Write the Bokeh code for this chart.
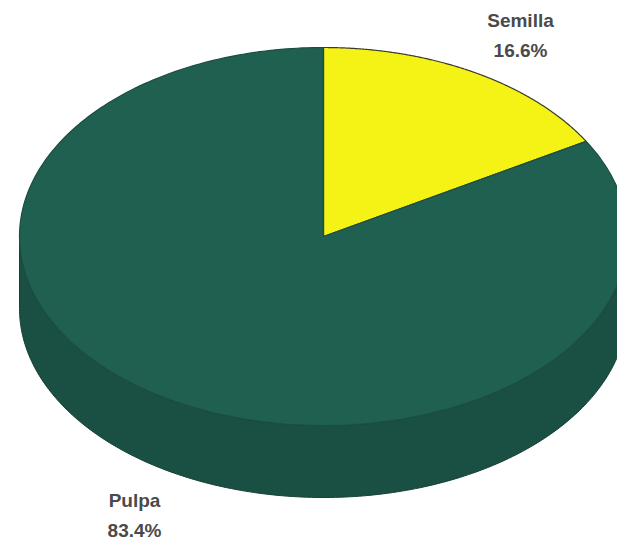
import numpy as np
from bokeh.plotting import figure
from bokeh.models import Range1d
from bokeh.embed import file_html
from bokeh.resources import INLINE
from bokeh.core.properties import value

# ---- data ----
categories = ["Semilla", "Pulpa"]
values = [16.6, 83.4]

# ---- style / layout ----
top_colors = ["#f5f216", "#1f6051"]
side_colors = ["#c9c40c", "#1a5044"]
edge_colors = ["#3a3a2a", "#1b4d42"]
label_pos = [(520, 20, 50), (134, 500, 530)]   # x, y of name, y of percent (pixels)
W, H = 617, 545
cx, cy, rx, ry, depth = 323, 236, 304, 189, 72

p = figure(width=W, height=H, x_range=Range1d(0, W), y_range=Range1d(H, 0),
           output_backend="svg", toolbar_location=None,
           x_axis_location=None, y_axis_location=None, min_border=0)
p.grid.visible = False
p.outline_line_color = None
p.background_fill_color = "white"
p.border_fill_color = "white"

def pt(t, dz=0.0):
    return cx + rx * np.cos(t), cy - ry * np.sin(t) + dz

total = float(sum(values))
start = np.pi / 2
slices = []
for v in values:
    sweep = 2 * np.pi * v / total
    slices.append((start, start - sweep))   # clockwise
    start -= sweep

# side (front half: math angles in [-pi, 0] modulo 2pi)
for (a0, a1), col in zip(slices, side_colors):
    hi, lo = a0, a1
    for shift in (0, -2 * np.pi, 2 * np.pi):
        s_hi = min(hi + shift, 0.0)
        s_lo = max(lo + shift, -np.pi)
        if s_hi > s_lo:
            t = np.linspace(s_hi, s_lo, 200)
            xt, yt = pt(t)
            xb, yb = pt(t[::-1], depth)
            xs = np.concatenate([xt, xb])
            ys = np.concatenate([yt, yb])
            p.patch(xs, ys, fill_color=col, line_color="#163f36", line_width=1)

# top slices
for (a0, a1), col, ec in zip(slices, top_colors, edge_colors):
    t = np.linspace(a0, a1, 300)
    xe, ye = pt(t)
    xs = np.concatenate([[cx], xe, [cx]])
    ys = np.concatenate([[cy], ye, [cy]])
    p.patch(xs, ys, fill_color=col, line_color=ec, line_width=1.2)

# labels
for cat, v, (lx, ly1, ly2) in zip(categories, values, label_pos):
    p.text(x=[lx], y=[ly1], text=[cat], text_align="center", text_baseline="middle",
           text_font=value("Liberation Sans"), text_font_style="bold",
           text_font_size="19px", text_color="#4a4a4a")
    p.text(x=[lx], y=[ly2], text=[f"{v:.1f}%"], text_align="center", text_baseline="middle",
           text_font=value("Liberation Sans"), text_font_style="bold",
           text_font_size="19px", text_color="#4a4a4a")

open("out.html", "w").write(file_html(p, INLINE))
